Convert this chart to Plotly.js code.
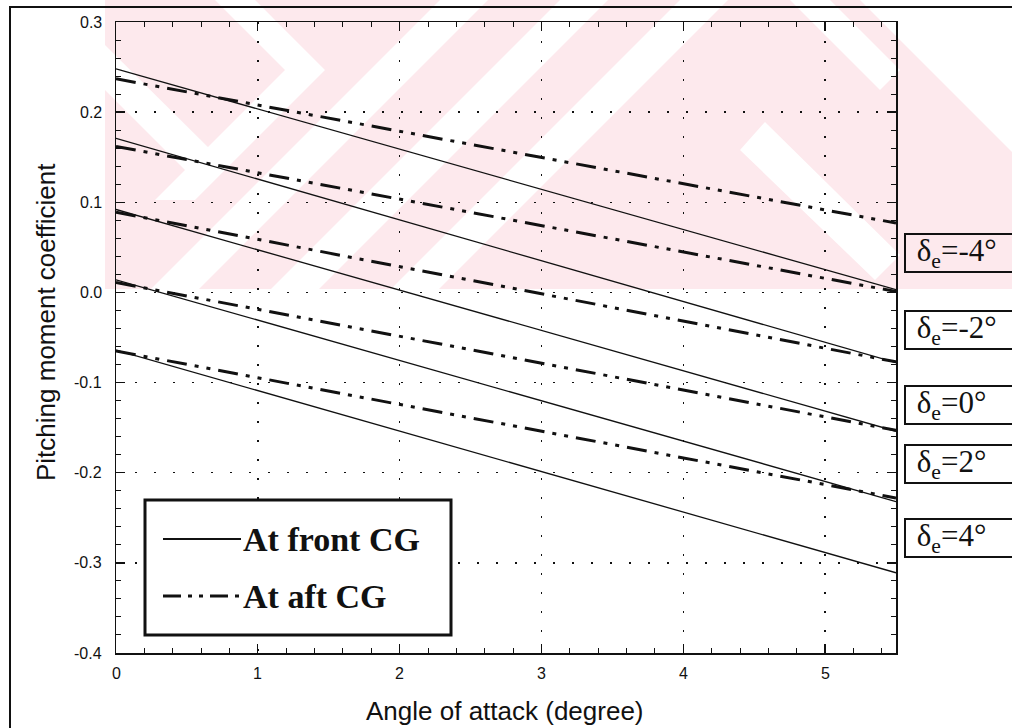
<!DOCTYPE html>
<html><head><meta charset="utf-8">
<script src="https://cdn.plot.ly/plotly-3.0.1.min.js"></script>
<style>html,body{margin:0;padding:0;background:#fff}#chart{width:1012px;height:728px}</style>
</head><body><div id="chart"></div>
<script>
// ---- data ----
const alpha = [0, 5.5];
const deltaLabels = ['-4', '-2', '0', '2', '4'];
const frontCG_m4 = [0.248, 0.003];
const frontCG_m2 = [0.171, -0.078];
const frontCG_0  = [0.092, -0.154];
const frontCG_p2 = [0.014, -0.232];
const frontCG_p4 = [-0.064, -0.311];
const aftCG_m4 = [0.237, 0.077];
const aftCG_m2 = [0.162, 0.001];
const aftCG_0  = [0.089, -0.077];
const aftCG_p2 = [0.011, -0.153];
const aftCG_p4 = [-0.065, -0.228];
const yTickVals = [-0.4, -0.3, -0.2, -0.1, 0, 0.1, 0.2, 0.3];
const yTickText = ['-0.4', '-0.3', '-0.2', '-0.1', '0.0', '0.1', '0.2', '0.3'];
const xTickVals = [0, 1, 2, 3, 4, 5];
const xTickText = ['0', '1', '2', '3', '4', '5'];
const legendNames = ['At front CG', 'At aft CG'];
const xTitle = 'Angle of attack (degree)';
const yTitle = 'Pitching moment coefficient';

const frontSeries = [frontCG_m4, frontCG_m2, frontCG_0, frontCG_p2, frontCG_p4];
const aftSeries = [aftCG_m4, aftCG_m2, aftCG_0, aftCG_p2, aftCG_p4];

// ---- layout geometry ----
const L = 116, T = 22, W = 780, H = 631;
const px = x => (x - L) / W;
const py = y => (T + H - y) / H;
const AFT_DASH = '20px,8px,4px,8px,4px,8px';
const serif = 'Liberation Serif';
const sans = 'Liberation Sans';
const INK = '#111';

const traces = [];
frontSeries.forEach((s, i) => traces.push({
  x: alpha, y: s, mode: 'lines', type: 'scatter', showlegend: false,
  name: legendNames[0] + ' δe=' + deltaLabels[i],
  line: {color: INK, width: 1.3}
}));
aftSeries.forEach((s, i) => traces.push({
  x: alpha, y: s, mode: 'lines', type: 'scatter', showlegend: false,
  name: legendNames[1] + ' δe=' + deltaLabels[i],
  line: {color: INK, width: 3, dash: AFT_DASH}
}));

const toPath = pts => 'M' + pts.map(p => px(p[0]).toFixed(5) + ',' + py(p[1]).toFixed(5)).join(' L') + ' Z';
const PINK = '#fde9ed';
const shapes = [];
const addPoly = (pts, col) => shapes.push({type: 'path', xref: 'paper', yref: 'paper', layer: 'below',
  line: {width: 0}, fillcolor: col, path: toPath(pts)});
// faint watermark (background decoration)
addPoly([[105, 0], [860, 0], [1012, 152], [1012, 289], [105, 289]], PINK);
[440, 560, 680].forEach(c => addPoly([[c, 0], [c + 48, 0], [c + 48 - 289, 289], [c - 289, 289]], '#ffffff'));
addPoly([[215, 0], [255, 0], [325, 70], [195, 200], [155, 200], [285, 70]], '#ffffff');
addPoly([[105, 45], [105, 90], [195, 180], [218, 157]], '#ffffff');
addPoly([[790, 0], [830, 0], [900, 70], [880, 90]], '#ffffff');
addPoly([[740, 150], [765, 122], [900, 255], [875, 280]], '#ffffff');

// outer frame
shapes.push({type: 'rect', xref: 'paper', yref: 'paper', x0: px(10), x1: px(1030), y0: py(7), y1: py(760),
  line: {color: INK, width: 2}, fillcolor: 'rgba(0,0,0,0)'});
// legend box
shapes.push({type: 'rect', xref: 'paper', yref: 'paper', x0: px(145), x1: px(451), y0: py(500), y1: py(635),
  line: {color: INK, width: 3}, fillcolor: '#ffffff'});
shapes.push({type: 'line', xref: 'paper', yref: 'paper', x0: px(163), x1: px(241), y0: py(539), y1: py(539),
  line: {color: INK, width: 2}});
shapes.push({type: 'line', xref: 'paper', yref: 'paper', x0: px(163), x1: px(241), y0: py(596), y1: py(596),
  line: {color: INK, width: 3, dash: '18px,7px,4px,7px,4px,7px'}});

const annotations = [];
// tick labels (placed through the axis scales)
yTickVals.forEach((v, i) => annotations.push({xref: 'paper', yref: 'y', x: px(104), y: v, xanchor: 'right', yanchor: 'middle',
  text: yTickText[i], showarrow: false, font: {family: sans, size: 16, color: INK}}));
xTickVals.forEach((v, i) => annotations.push({xref: 'x', yref: 'paper', x: v, y: py(663), xanchor: 'center', yanchor: 'top',
  text: xTickText[i], showarrow: false, font: {family: sans, size: 16, color: INK}}));
// axis titles
annotations.push({xref: 'paper', yref: 'paper', x: px(505), y: py(711), xanchor: 'center', yanchor: 'middle',
  text: xTitle, showarrow: false, font: {family: sans, size: 26, color: INK}});
annotations.push({xref: 'paper', yref: 'paper', x: px(46), y: py(322), xanchor: 'center', yanchor: 'middle', textangle: -90,
  text: yTitle, showarrow: false, font: {family: sans, size: 26, color: INK}});
// legend texts
annotations.push({xref: 'paper', yref: 'paper', x: px(241), y: py(539), xanchor: 'left', yanchor: 'middle',
  text: legendNames[0], showarrow: false, font: {family: serif, size: 34, color: INK, weight: 'bold'}});
annotations.push({xref: 'paper', yref: 'paper', x: px(241), y: py(596), xanchor: 'left', yanchor: 'middle',
  text: legendNames[1], showarrow: false, font: {family: serif, size: 34, color: INK, weight: 'bold'}});
// elevator deflection labels
const labelCenters = [253, 330, 405, 464, 538];
deltaLabels.forEach((d, i) => annotations.push({
  xref: 'paper', yref: 'paper', x: px(904), y: py(labelCenters[i]), xanchor: 'left', yanchor: 'middle',
  text: '\u00a0δ<sub>e</sub>=' + d + '°', showarrow: false, align: 'left',
  width: 130, height: 30, borderpad: 3, borderwidth: 2, bordercolor: INK,
  font: {family: serif, size: 31, color: INK}
}));

const axisCommon = {
  ticks: 'inside', ticklen: 9, tickwidth: 1.3, tickcolor: INK, showticklabels: false,
  showline: true, linecolor: INK, linewidth: 1.5, mirror: 'allticks',
  showgrid: true, gridcolor: INK, gridwidth: 1.5, griddash: '2px,17px',
  zeroline: false
};
const layout = {
  width: 1012, height: 728,
  font: {family: sans, size: 16, color: INK},
  margin: {l: L, r: 1012 - L - W, t: T, b: 728 - T - H},
  paper_bgcolor: '#ffffff', plot_bgcolor: 'rgba(0,0,0,0)',
  showlegend: false,
  xaxis: Object.assign({
    range: [0, 5.5], tickmode: 'array', tickvals: xTickVals,
    minor: {dtick: 0.2, tick0: 0, ticks: 'inside', ticklen: 5, tickwidth: 1, tickcolor: INK, showgrid: false}
  }, axisCommon),
  yaxis: Object.assign({
    range: [-0.4, 0.3], tickmode: 'array', tickvals: yTickVals,
    minor: {dtick: 0.02, tick0: 0, ticks: 'inside', ticklen: 5, tickwidth: 1, tickcolor: INK, showgrid: false}
  }, axisCommon),
  shapes: shapes,
  annotations: annotations
};

Plotly.newPlot('chart', traces, layout, {staticPlot: true, displayModeBar: false});
</script>
</body></html>
